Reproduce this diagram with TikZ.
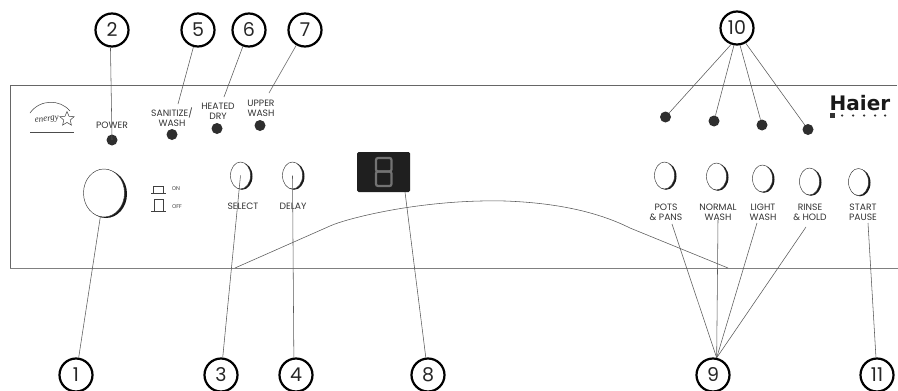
\documentclass[tikz,border=0pt]{standalone}
\usepackage{fontspec}
\setmainfont{Poppins}
\newfontfamily\logofont{DejaVu Sans}
\newfontfamily\logoscript{Liberation Serif}
\usetikzlibrary{shapes.geometric}
\tikzset{
  callout/.style={circle,draw=black,line width=2.2pt,minimum size=33pt,inner sep=0pt,font=\fontsize{19}{19}\selectfont,text=black!85},
  lead/.style={draw=black!65,line width=0.55pt},
  panel top/.style={draw=black!60,line width=0.8pt},
  panel bottom/.style={draw=black!50,line width=1pt},
  lamp/.style={circle,fill=black!82,minimum size=11pt,inner sep=0pt},
  lbl/.style={align=center,inner sep=0pt,font=\fontsize{9.2}{10}\selectfont,text=black!80},
  tiny/.style={inner sep=0pt,font=\fontsize{5.5}{6}\selectfont,text=black!75},
  btn/.style={ellipse,draw=black!80,fill=white,line width=0.45pt,inner sep=0pt,minimum width=20pt,minimum height=27pt},
  btnshade/.style={ellipse,fill=black!90,inner sep=0pt,minimum width=21pt,minimum height=27pt},
}
\newcommand{\presskey}[3]{%
  \node[btnshade] at (#2+1.5,#3+0.8) {};
  \node[btn] (#1) at (#2,#3) {};
}
\begin{document}
\begin{tikzpicture}[x=1pt,y=-1pt]
\path[use as bounding box,fill=white] (0,0) rectangle (898,391);

% panel
\coordinate (tl) at (10,85);
\coordinate (tr) at (897,85);
\coordinate (bl) at (10,268);
\coordinate (br) at (898,268);
\draw[panel top] (tr) -- (tl) -- (bl);
\draw[panel bottom] (bl) -- (br);
\coordinate (cs) at (235,268);
\coordinate (ce) at (728,268);
\draw[lead] (cs) -- (330,226) .. controls (345,219) and (420,199) .. (505,201)
  .. controls (560,203) and (600,213) .. (630,228) -- (ce);

% energy logo
\draw[black!75,line width=0.5pt] (30,113) .. controls (40,99) and (60,99) .. (70,111);
\node[inner sep=0pt,rotate=8,font=\logoscript\itshape\fontsize{9}{9}\selectfont,text=black!80] (energy) at (47,120) {energy};
\node[star,star points=5,star point ratio=2.2,draw=black!75,line width=0.5pt,inner sep=0pt,minimum size=15pt] (estar) at (67,119) {};
\coordinate (ea) at (30,132);
\coordinate (eb) at (74,132);
\draw[black!70,line width=0.8pt] (ea) -- (eb);

% knob and keys
\node[ellipse,fill=black!90,inner sep=0pt,minimum width=42pt,minimum height=48pt] at (106,194) {};
\node[ellipse,draw=black!80,fill=white,line width=0.45pt,inner sep=0pt,minimum width=41pt,minimum height=48pt] (knob) at (104,193) {};
\presskey{kselect}{240.5}{175.5}
\presskey{kdelay}{292.5}{175.5}
\presskey{kpots}{664.5}{175.5}
\presskey{knormal}{716.5}{176.5}
\presskey{klight}{762.5}{178.5}
\presskey{krinse}{809.5}{181.5}
\presskey{kstart}{858.5}{182}

% switch icons
\coordinate (ona) at (151,193);
\coordinate (onb) at (166,193);
\coordinate (offa) at (151,211);
\coordinate (offb) at (166,211);
\draw[black!75,line width=0.5pt] (ona) -- (onb);
\draw[black!75,line width=0.5pt] (153.5,193) -- (153.5,186) -- (163.5,186) -- (163.5,193);
\draw[black!75,line width=0.5pt] (offa) -- (offb);
\draw[black!75,line width=0.5pt] (154,211) -- (154,199) -- (163,199) -- (163,211);
\node[tiny] (on) at (176,189) {ON};
\node[tiny] (off) at (177,207) {OFF};

% lamps
\node[lamp] (dpower) at (112,140) {};
\node[lamp] (dsan) at (172,134.5) {};
\node[lamp] (dheat) at (217,128.5) {};
\node[lamp] (dupper) at (260,125.5) {};
\node[lamp] (da) at (665.5,117) {};
\node[lamp] (db) at (714,121) {};
\node[lamp] (dc) at (762,125) {};
\node[lamp] (dd) at (808,129.5) {};

% display
\node[rectangle,rounded corners=1.5pt,fill=black!88,minimum width=53pt,minimum height=40pt,inner sep=0pt] (disp) at (383.5,172) {};
\draw[black!55,line width=2.2pt,rounded corners=2pt] (376,158) rectangle (391.5,171.5);
\draw[black!55,line width=2.2pt,rounded corners=2pt] (376,171.5) rectangle (391.5,186);

% labels
\node[lbl] (lpower) at (112,125.5) {POWER};
\node[lbl] (lsan) at (172,117) {SANITIZE/\\WASH};
\node[lbl] (lheat) at (218,111) {HEATED\\DRY};
\node[lbl] (lupper) at (261,108) {UPPER\\WASH};
\node[lbl] (lselect) at (243,206) {SELECT};
\node[lbl] (ldelay) at (293,206) {DELAY};
\node[lbl] (lpots) at (666,212) {POTS\\\& PANS};
\node[lbl] (lnormal) at (718,212) {NORMAL\\WASH};
\node[lbl] (llight) at (763,212) {LIGHT\\WASH};
\node[lbl] (lrinse) at (810,212) {RINSE\\\& HOLD};
\node[lbl] (lstart) at (863,212) {START\\PAUSE};

% Haier logo
\node[inner sep=0pt,font=\logofont\bfseries\fontsize{20}{20}\selectfont,text=black!90] (haier) at (860,103) {Haier};
\node[rectangle,fill=black!80,minimum size=5pt,inner sep=0pt] (hs) at (832.5,115.5) {};
\foreach \n/\x in {a/842,b/853,c/864,d/875,e/885}
  \node[circle,fill=black!80,minimum size=2.5pt,inner sep=0pt] (h\n) at (\x,115.5) {};

% callouts
\node[callout] (c2) at (112,30) {2};
\node[callout] (c5) at (198,30) {5};
\node[callout] (c6) at (249,30) {6};
\node[callout] (c7) at (305,30) {7};
\node[callout] (c10) at (737,28) {10};
\node[callout] (c1) at (76,375) {1};
\node[callout] (c3) at (221,375) {3};
\node[callout] (c4) at (296,375) {4};
\node[callout] (c8) at (428,375) {8};
\node[callout] (c9) at (713,375) {9};
\node[callout] (c11) at (877,375) {11};

% free ends of connectors
\coordinate (e5) at (178,104);
\coordinate (e6) at (224,97);
\coordinate (e7) at (269,93);
\coordinate (e8) at (405,192);
\coordinate (e9a) at (672,224);
\coordinate (e9b) at (718,220);
\coordinate (e9c) at (757,223);
\coordinate (e9d) at (806,227);
\coordinate (e11) at (868,223);

% connectors
\draw[lead] (c2.265) -- (dpower.center);
\draw[lead] (c5) -- (e5);
\draw[lead] (c6) -- (e6);
\draw[lead] (c7) -- (e7);
\draw[lead] (c10.250) -- (da);
\draw[lead] (c10.260) -- (db);
\draw[lead] (c10.280) -- (dc);
\draw[lead] (c10.300) -- (dd);
\draw[lead] (c1) -- (knob);
\draw[lead] (c3) -- (kselect.center);
\draw[lead] (c4.97) -- (kdelay.center);
\draw[lead] (c8) -- (e8);
\draw[lead] (c9.78) -- (e9a);
\draw[lead] (c9.78) -- (e9b);
\draw[lead] (c9.78) -- (e9c);
\draw[lead] (c9.78) -- (e9d);
\draw[lead] (c11) -- (e11);
\end{tikzpicture}
\end{document}
